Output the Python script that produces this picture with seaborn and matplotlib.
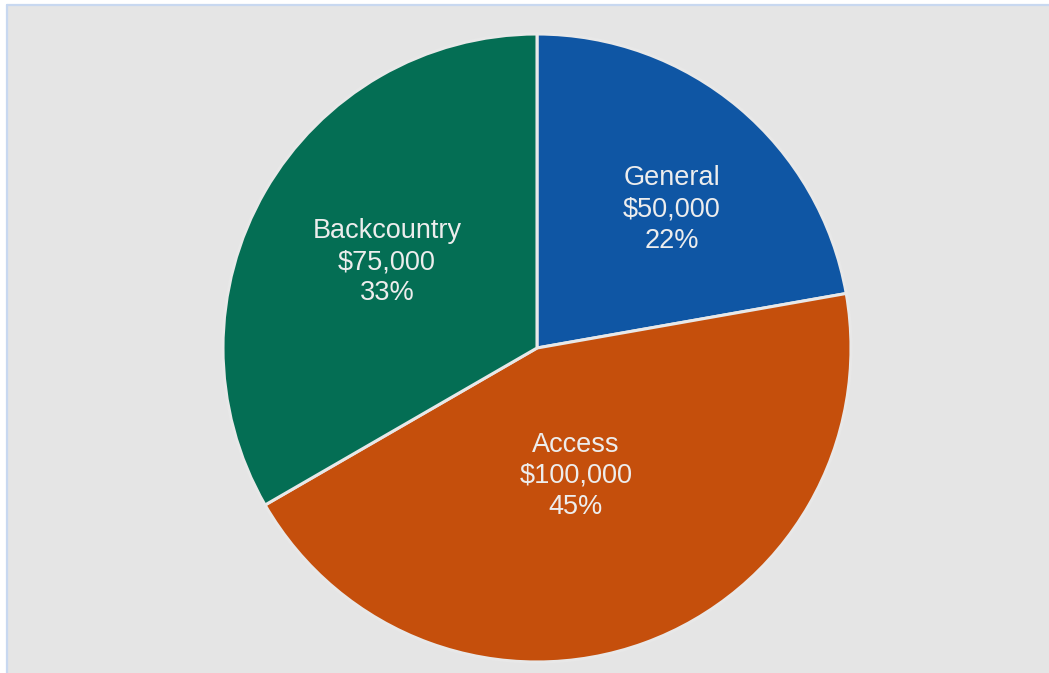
import matplotlib
matplotlib.use("Agg")
import matplotlib.pyplot as plt
import seaborn as sns
from matplotlib.patches import Rectangle
from matplotlib.lines import Line2D
import numpy as np

sns.set_theme(style="white")
plt.rcParams['font.family'] = ['Liberation Sans', 'DejaVu Sans']

categories = ["General", "Access", "Backcountry"]
values = [50000, 100000, 75000]
value_labels = ["$50,000", "$100,000", "$75,000"]
pct_labels = ["22%", "45%", "33%"]
colors = ["#0F56A4", "#C54F0C", "#046E54"]
label_r = [0.617, 0.426, 0.551]
label_shift = [-4.2, -3.1, 0.2]

W, H = 1049, 673
fig = plt.figure(figsize=(W / 100, H / 100), dpi=100, facecolor="white")

# background panel with light blue top/left border
fig.patches.append(Rectangle((6.5 / W, 0), 1 - 6.5 / W, (H - 4.5) / H,
                             transform=fig.transFigure, facecolor="#E5E5E5",
                             edgecolor="none", zorder=-2))
fig.lines.append(Line2D([6.5 / W, 6.5 / W], [0, (H - 4.5) / H], transform=fig.transFigure,
                        color="#C8D8F0", linewidth=1.6, zorder=-1))
fig.lines.append(Line2D([6.5 / W, 1], [(H - 4.5) / H, (H - 4.5) / H], transform=fig.transFigure,
                        color="#C8D8F0", linewidth=1.6, zorder=-1))

cx, cy, r = 537, 348, 314
ax = fig.add_axes([(cx - r) / W, (H - cy - r) / H, 2 * r / W, 2 * r / H])
ax.set_facecolor("none")
ax.set_zorder(1)

wedges, _ = ax.pie(values, colors=colors, startangle=90, counterclock=False,
                   radius=1.0,
                   wedgeprops=dict(edgecolor="#E8E8E8", linewidth=2.2))

for w, cat, vl, pl, lr, sh in zip(wedges, categories, value_labels, pct_labels,
                                  label_r, label_shift):
    mid = np.deg2rad((w.theta1 + w.theta2) / 2 + sh)
    x, y = lr * np.cos(mid), lr * np.sin(mid)
    ax.text(x, y, f"{cat}\n{vl}\n{pl}", ha="center", va="center",
            color="#EDEDED", fontsize=19.5, linespacing=1.27)

ax.set_xlim(-1, 1)
ax.set_ylim(-1, 1)
ax.set_aspect("equal")
ax.axis("off")

fig.savefig("out.png", dpi=100, facecolor="white")
